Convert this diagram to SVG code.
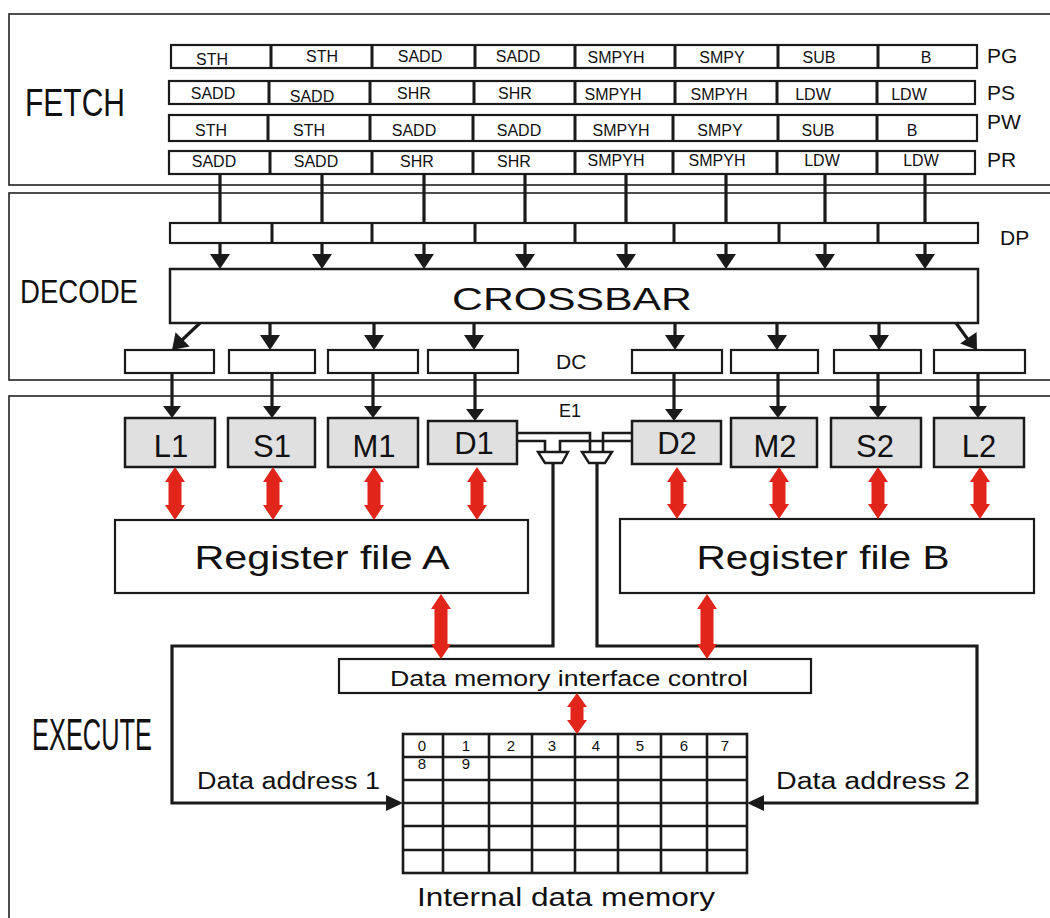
<svg xmlns="http://www.w3.org/2000/svg" xmlns:xlink="http://www.w3.org/1999/xlink" width="1050" height="918" viewBox="0 0 1050 918">
<style>
text{font-family:"Liberation Sans",Arial,sans-serif;fill:#111}
.panel{fill:none;stroke:#222;stroke-width:1.6}
.box{fill:#fff;stroke:#1a1a1a;stroke-width:2.2}
.unit{fill:#e0e0e0;stroke:#1a1a1a;stroke-width:2.5}
.div{stroke:#1a1a1a;stroke-width:3}
.cell{font-size:16px;text-anchor:middle}
.lab{font-size:21px}
.ul{font-size:31px;text-anchor:middle}
.wire{fill:none;stroke:#1a1a1a;stroke-width:3.2}
.thin{fill:none;stroke:#1a1a1a;stroke-width:2.6}
.red{fill:#e1251b}
.ah{fill:#1a1a1a}
.grid{stroke:#1a1a1a;stroke-width:2.6}
.dig{font-size:15px;text-anchor:middle}
</style>
<defs>
<path id="adn" d="M-10,-15 L10,-15 L0,0 Z"/>
<path id="adn2" d="M-9,-12 L9,-12 L0,0 Z"/>
</defs>

<g id="panels">
<rect class="panel" x="9" y="14" width="1070" height="171"/>
<rect class="panel" x="9" y="193" width="1070" height="187"/>
<rect class="panel" x="9" y="396" width="1070" height="600"/>
<text x="25" y="116" font-size="38" textLength="100" lengthAdjust="spacingAndGlyphs">FETCH</text>
<text x="20" y="303" font-size="33" textLength="118" lengthAdjust="spacingAndGlyphs">DECODE</text>
<text x="32" y="750" font-size="44" textLength="120" lengthAdjust="spacingAndGlyphs">EXECUTE</text>
</g>

<g id="fetch-PG">
<rect class="box" x="171" y="45" width="806" height="23"/>
<path class="div" d="M271,45V68M372,45V68M475,45V68M575,45V68M675,45V68M778,45V68M878,45V68"/>
<text class="cell" x="212" y="65">STH</text><text class="cell" x="322" y="62">STH</text><text class="cell" x="420" y="62">SADD</text><text class="cell" x="518" y="62">SADD</text><text class="cell" x="616" y="63">SMPYH</text><text class="cell" x="722" y="63">SMPY</text><text class="cell" x="819" y="63">SUB</text><text class="cell" x="926" y="63">B</text>
<text class="lab" x="987" y="63">PG</text>
</g>
<g id="fetch-PS">
<rect class="box" x="169" y="81" width="806" height="23"/>
<path class="div" d="M269,81V104M370,81V104M474,81V104M575,81V104M675,81V104M777,81V104M877,81V104"/>
<text class="cell" x="213" y="99">SADD</text><text class="cell" x="312" y="102">SADD</text><text class="cell" x="414" y="99">SHR</text><text class="cell" x="515" y="99">SHR</text><text class="cell" x="613" y="100">SMPYH</text><text class="cell" x="719" y="100">SMPYH</text><text class="cell" x="813" y="100">LDW</text><text class="cell" x="909" y="100">LDW</text>
<text class="lab" x="987" y="100">PS</text>
</g>
<g id="fetch-PW">
<rect class="box" x="169" y="115" width="808" height="26"/>
<path class="div" d="M268,115V141M370,115V141M473,115V141M575,115V141M673,115V141M778,115V141M877,115V141"/>
<text class="cell" x="211" y="136">STH</text><text class="cell" x="309" y="136">STH</text><text class="cell" x="414" y="136">SADD</text><text class="cell" x="519" y="136">SADD</text><text class="cell" x="621" y="136">SMPYH</text><text class="cell" x="720" y="136">SMPY</text><text class="cell" x="818" y="136">SUB</text><text class="cell" x="912" y="136">B</text>
<text class="lab" x="987" y="129">PW</text>
</g>
<g id="fetch-PR">
<rect class="box" x="169" y="151" width="806" height="23"/>
<path class="div" d="M270,151V174M372,151V174M473,151V174M575,151V174M673,151V174M777,151V174M877,151V174"/>
<text class="cell" x="214" y="167">SADD</text><text class="cell" x="316" y="167">SADD</text><text class="cell" x="417" y="167">SHR</text><text class="cell" x="514" y="167">SHR</text><text class="cell" x="616" y="166">SMPYH</text><text class="cell" x="717" y="166">SMPYH</text><text class="cell" x="822" y="166">LDW</text><text class="cell" x="921" y="166">LDW</text>
<text class="lab" x="987" y="167">PR</text>
</g>

<g id="dp">
<rect class="box" x="170" y="223" width="808" height="20"/>
<path class="div" d="M272,223V243M372,223V243M475,223V243M575,223V243M674,223V243M779,223V243M878,223V243"/>
<text class="lab" x="1000" y="245">DP</text>
</g>

<g id="crossbar">
<rect class="box" x="170" y="269" width="808" height="54" style="stroke-width:2.5"/>
<text x="572" y="310" font-size="31" text-anchor="middle" textLength="240" lengthAdjust="spacingAndGlyphs">CROSSBAR</text>
</g>

<g id="dc">
<rect class="box" x="125" y="350" width="89" height="23"/>
<rect class="box" x="229" y="350" width="86" height="23"/>
<rect class="box" x="328" y="350" width="90" height="23"/>
<rect class="box" x="428" y="350" width="90" height="23"/>
<rect class="box" x="632" y="350" width="90" height="23"/>
<rect class="box" x="731" y="350" width="87" height="23"/>
<rect class="box" x="834" y="350" width="87" height="23"/>
<rect class="box" x="934" y="350" width="91" height="23"/>
<text class="lab" x="556" y="369">DC</text>
</g>

<g id="unit-L1"><rect class="unit" x="125" y="418" width="90" height="49"/><text class="ul" x="171" y="457">L1</text></g>
<g id="unit-S1"><rect class="unit" x="228" y="418" width="87" height="49"/><text class="ul" x="272" y="457">S1</text></g>
<g id="unit-M1"><rect class="unit" x="328" y="418" width="90" height="49"/><text class="ul" x="374" y="457">M1</text></g>
<g id="unit-D1"><rect class="unit" x="428" y="421" width="89" height="43"/><text class="ul" x="474" y="454">D1</text></g>
<g id="unit-D2"><rect class="unit" x="632" y="421" width="89" height="43"/><text class="ul" x="677" y="454">D2</text></g>
<g id="unit-M2"><rect class="unit" x="731" y="418" width="86" height="49"/><text class="ul" x="775" y="457">M2</text></g>
<g id="unit-S2"><rect class="unit" x="831" y="418" width="90" height="49"/><text class="ul" x="875" y="457">S2</text></g>
<g id="unit-L2"><rect class="unit" x="934" y="418" width="90" height="49"/><text class="ul" x="979" y="457">L2</text></g>
<text x="559" y="417" font-size="18">E1</text>

<g id="regfile-A"><rect class="box" x="115" y="520" width="413" height="73"/><text x="322" y="569" font-size="33" text-anchor="middle" textLength="255" lengthAdjust="spacingAndGlyphs">Register file A</text></g>
<g id="regfile-B"><rect class="box" x="620" y="519" width="414" height="74"/><text x="823" y="569" font-size="33" text-anchor="middle" textLength="253" lengthAdjust="spacingAndGlyphs">Register file B</text></g>

<g id="dmic"><rect class="box" x="339" y="659" width="472" height="34"/><text x="569" y="686" font-size="22" text-anchor="middle" textLength="358" lengthAdjust="spacingAndGlyphs">Data memory interface control</text></g>

<g id="memory">
<rect x="403" y="734" width="344" height="139" fill="#fff" stroke="#1a1a1a" stroke-width="2.6"/>
<path class="grid" d="M443,734V873M489,734V873M532,734V873M575,734V873M618,734V873M661,734V873M707,734V873M403,757H747M403,780H747M403,803H747M403,826H747M403,850H747"/>
<text class="dig" x="422" y="751">0</text><text class="dig" x="466" y="751">1</text><text class="dig" x="511" y="751">2</text><text class="dig" x="552" y="751">3</text><text class="dig" x="596" y="751">4</text><text class="dig" x="640" y="751">5</text><text class="dig" x="684" y="751">6</text><text class="dig" x="725" y="751">7</text>
<text class="dig" x="422" y="769">8</text><text class="dig" x="466" y="769">9</text>
<text x="417" y="906" font-size="25" textLength="298" lengthAdjust="spacingAndGlyphs">Internal data memory</text>
</g>

<g id="mux1"><polygon points="538,452 568,452 562,463 545,463" fill="#fff" stroke="#1a1a1a" stroke-width="2.4"/></g>
<g id="mux2"><polygon points="582,452 612,452 605,463 589,463" fill="#fff" stroke="#1a1a1a" stroke-width="2.4"/></g>

<g id="connectors">
<path class="wire" d="M220,174V223M322,174V223M424,174V223M525,174V223M626,174V223M726,174V223M825,174V223M925,174V223"/>
<path class="wire" d="M220,243V256M322,243V256M424,243V256M525,243V256M626,243V256M726,243V256M825,243V256M925,243V256"/>
<g class="ah">
<use xlink:href="#adn" x="220" y="269"/><use xlink:href="#adn" x="322" y="269"/><use xlink:href="#adn" x="424" y="269"/><use xlink:href="#adn" x="525" y="269"/><use xlink:href="#adn" x="626" y="269"/><use xlink:href="#adn" x="726" y="269"/><use xlink:href="#adn" x="825" y="269"/><use xlink:href="#adn" x="925" y="269"/>
</g>
<path class="wire" d="M270,323V337M374,323V337M474,323V337M675,323V337M777,323V337M879,323V337M200,323L181,341M956,323L969,341"/>
<g class="ah">
<use xlink:href="#adn" x="270" y="350"/><use xlink:href="#adn" x="374" y="350"/><use xlink:href="#adn" x="474" y="350"/><use xlink:href="#adn" x="675" y="350"/><use xlink:href="#adn" x="777" y="350"/><use xlink:href="#adn" x="879" y="350"/>
<use xlink:href="#adn" transform="translate(172,350) rotate(45)"/>
<use xlink:href="#adn" transform="translate(977,350) rotate(-35)"/>
</g>
<path class="wire" d="M172,373V407M272,373V407M373,373V407M475,373V410M674,373V410M778,373V407M878,373V407M978,373V407"/>
<g class="ah">
<use xlink:href="#adn2" x="172" y="418"/><use xlink:href="#adn2" x="272" y="418"/><use xlink:href="#adn2" x="373" y="418"/><use xlink:href="#adn2" x="475" y="421"/><use xlink:href="#adn2" x="674" y="421"/><use xlink:href="#adn2" x="778" y="418"/><use xlink:href="#adn2" x="878" y="418"/><use xlink:href="#adn2" x="978" y="418"/>
</g>
<path class="thin" d="M517,433H590V452M517,441H545V452M632,433H603V452M632,441H560V452"/>
<path class="wire" d="M553,463V646H172V803H388M597,463V646H977V803H763"/>
<polygon class="ah" points="403,803 386,795 386,811"/>
<polygon class="ah" points="747,803 764,795 764,811"/>
<g class="red">
<path d="M175,467l10,15h-3.5v23h3.5l-10,15l-10,-15h3.5v-23h-3.5z"/>
<path d="M273,467l10,15h-3.5v23h3.5l-10,15l-10,-15h3.5v-23h-3.5z"/>
<path d="M374,467l10,15h-3.5v23h3.5l-10,15l-10,-15h3.5v-23h-3.5z"/>
<path d="M477,467l10,15h-3.5v23h3.5l-10,15l-10,-15h3.5v-23h-3.5z"/>
<path d="M677,467l10,15h-3.5v22h3.5l-10,15l-10,-15h3.5v-22h-3.5z"/>
<path d="M779,467l10,15h-3.5v22h3.5l-10,15l-10,-15h3.5v-22h-3.5z"/>
<path d="M878,467l10,15h-3.5v22h3.5l-10,15l-10,-15h3.5v-22h-3.5z"/>
<path d="M980,467l10,15h-3.5v22h3.5l-10,15l-10,-15h3.5v-22h-3.5z"/>
<path d="M441,594l10,15h-3.5v35h3.5l-10,15l-10,-15h3.5v-35h-3.5z"/>
<path d="M707,594l10,15h-3.5v35h3.5l-10,15l-10,-15h3.5v-35h-3.5z"/>
<path d="M577,693l10,14h-3.5v13h3.5l-10,14l-10,-14h3.5v-13h-3.5z"/>
</g>
<text x="197" y="789" font-size="23" textLength="183" lengthAdjust="spacingAndGlyphs">Data address 1</text>
<text x="776" y="789" font-size="23" textLength="194" lengthAdjust="spacingAndGlyphs">Data address 2</text>
</g>
</svg>
